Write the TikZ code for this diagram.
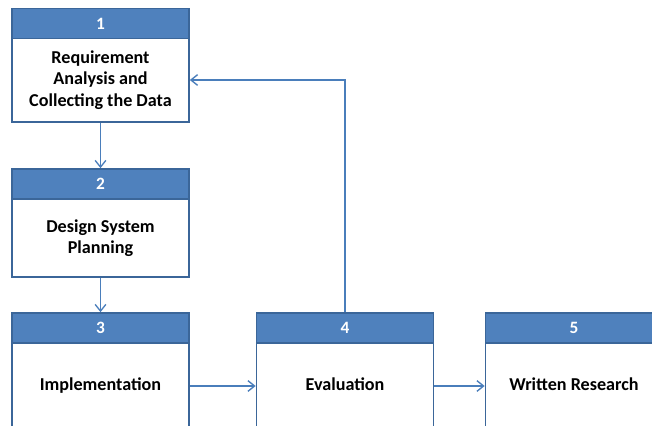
\documentclass[tikz,border=0pt]{standalone}
\usepackage{fontspec}
\setmainfont{Carlito}
\usetikzlibrary{arrows.meta}
\definecolor{hdrfill}{HTML}{4F81BD}
\definecolor{boxedge}{HTML}{3B6699}
\definecolor{arrcol}{HTML}{4A7EBB}
\begin{document}
\begin{tikzpicture}[x=0.75pt,y=-0.75pt,
  hdr/.style={draw=boxedge,fill=hdrfill,line width=1.3pt,minimum width=132.75pt,minimum height=22.5pt,inner sep=0pt,
    text=white,font=\fontsize{13}{16}\selectfont\bfseries},
  body/.style={draw=boxedge,fill=white,line width=1.3pt,minimum width=132.75pt,inner sep=0pt,align=center,
    font=\fontsize{13.6}{16.2}\selectfont\bfseries},
  oneline/.style={text height=9.6pt,text depth=3.2pt},
  conn/.style={draw=arrcol,line width=1pt,-{Straight Barb[length=5pt,width=8pt,line width=1pt]}}]
\useasboundingbox (0,0) rectangle (652,425);
\clip (0,0) rectangle (652,425);
\fill[white] (0,0) rectangle (652,425);
% box 1
\node[body,minimum height=63pt] (b1) at (100.5,80) {Requirement\\Analysis and\\Collecting the Data};
\node[hdr] (h1) at (100.5,23.5) {1};
% box 2
\node[body,minimum height=58.5pt] (b2) at (100.5,238) {Design System\\Planning};
\node[hdr] (h2) at (100.5,184) {2};
% box 3
\node[body,oneline,minimum height=64.5pt] (b3) at (100.5,386) {Implementation};
\node[hdr] (h3) at (100.5,328) {3};
% box 4
\node[body,oneline,minimum height=64.5pt] (b4) at (345,386) {Evaluation};
\node[hdr] (h4) at (345,328) {4};
% box 5
\node[body,oneline,minimum height=64.5pt] (b5) at (574,386) {Written Research};
\node[hdr] (h5) at (574,328) {5};
% connectors
\draw[conn] (b1.south) -- (h2.north);
\draw[conn] (b2.south) -- (h3.north);
\draw[conn] (b3.east) -- (b4.west);
\draw[conn] (b4.east) -- (b5.west);
\draw[conn] (h4.north) |- (b1.east);
\end{tikzpicture}
\end{document}
